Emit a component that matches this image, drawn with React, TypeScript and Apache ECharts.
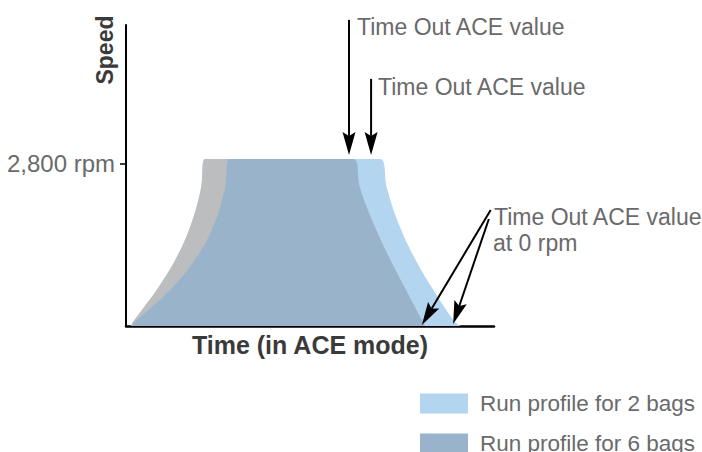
import React, { useEffect, useRef } from 'react';
import * as echarts from 'echarts';

const FONT = '"Liberation Sans", Arial, Helvetica, sans-serif';

// Legend / axis texts
const seriesNames = ['Run profile for 2 bags', 'Run profile for 6 bags'];
const yTickValues = [2800];
const yTickLabels = ['2,800 rpm'];
const xAxisName = 'Time (in ACE mode)';
const yAxisName = 'Speed';

// Run profile for 2 bags (time units, rpm)
const time2Bags = [1.4, 1.9, 8.7, 14.1, 17.9, 20.4, 21.5, 69.0, 70.9, 73.9, 78.0, 83.2, 89.4, 91.0];
const speed2Bags = [0, 69, 657, 1227, 1798, 2385, 2886, 2886, 2385, 1798, 1227, 657, 69, 0];

// Grey acceleration band (no legend entry)
const timeGrey = [1.4, 1.9, 8.7, 14.1, 17.9, 20.4, 21.5, 30.0, 30.0];
const speedGrey = [0, 69, 657, 1227, 1798, 2385, 2886, 2886, 0];

// Run profile for 6 bags
const time6Bags = [1.4, 2.5, 12.5, 19.6, 24.2, 26.9, 28.3, 61.7, 63.6, 67.1, 71.2, 75.8, 80.7, 81.2];
const speed6Bags = [0, 69, 657, 1227, 1798, 2385, 2886, 2886, 2385, 1798, 1227, 657, 69, 0];

// Annotation arrows: [tailTime, tailSpeed] -> [tipTime, tipSpeed]
const arrowTail = [
  [60.6, 5289],
  [66.6, 4269],
  [99.1, 2005],
  [98.6, 1849],
];
const arrowTip = [
  [60.6, 2956],
  [66.6, 2956],
  [80.4, 17],
  [88.9, 35],
];

const annotationTexts = ['Time Out ACE value', 'Time Out ACE value', 'Time Out ACE value', 'at 0 rpm'];

const COLOR_2 = '#b4d5f0';
const COLOR_6 = '#98b3ca';
const COLOR_GREY = '#bcbdbf';
const TEXT_LIGHT = '#6a6a6a';

const zip = (xs: number[], ys: number[]) => xs.map((x, i) => [x, ys[i]]);

function areaSeries(name: string, data: number[][], color: string, z: number) {
  return {
    name,
    type: 'line',
    data,
    smooth: 0.4,
    symbol: 'none',
    showSymbol: false,
    silent: true,
    z,
    color,
    lineStyle: { width: 0, color },
    itemStyle: { color },
    areaStyle: { color, opacity: 1 },
  };
}

function legendFor(i: number, top: number, color: string) {
  return {
    show: true,
    orient: 'vertical',
    left: 420,
    top,
    padding: 0,
    itemWidth: 48,
    itemHeight: 20,
    icon: 'rect',
    selectedMode: false,
    textStyle: { fontFamily: FONT, fontSize: 22.5, color: TEXT_LIGHT, padding: [0, 0, 0, 7] },
    data: [{ name: seriesNames[i], itemStyle: { color } }],
  };
}

export default function App() {
  const ref = useRef<HTMLDivElement>(null);

  useEffect(() => {
    document.body.style.margin = '0';
    if (!ref.current) return;
    const chart = echarts.init(ref.current, undefined, { renderer: 'svg' });

    const arrowData = arrowTail.map((t, i) => [t[0], t[1], arrowTip[i][0], arrowTip[i][1]]);
    const annoStyle = (text: string) => ({
      text,
      font: `23px ${FONT}`,
      fill: TEXT_LIGHT,
      align: 'left',
      verticalAlign: 'middle',
    });

    const option: any = {
      animation: false,
      grid: { left: 126, right: 208, top: 25, bottom: 126, containLabel: false },
      xAxis: {
        type: 'value',
        min: 0,
        max: 100,
        name: xAxisName,
        nameLocation: 'middle',
        nameGap: 6,
        nameTextStyle: {
          fontFamily: FONT,
          fontSize: 25,
          fontWeight: 'bold',
          color: '#3a3a3a',
          verticalAlign: 'top',
        },
        axisLine: { show: true, onZero: false, lineStyle: { color: '#000', width: 2.5 } },
        axisTick: { show: false },
        axisLabel: { show: false },
        splitLine: { show: false },
      },
      yAxis: {
        type: 'value',
        min: 0,
        max: 5200,
        axisLine: { show: true, onZero: false, lineStyle: { color: '#000', width: 2 } },
        axisTick: {
          show: true,
          length: 6,
          customValues: yTickValues,
          lineStyle: { color: '#000', width: 1.5 },
        },
        axisLabel: {
          show: true,
          customValues: yTickValues,
          margin: 11,
          fontFamily: FONT,
          fontSize: 24,
          color: TEXT_LIGHT,
          formatter: (v: number) => {
            const i = yTickValues.indexOf(v);
            return i >= 0 ? yTickLabels[i] : '';
          },
        },
        splitLine: { show: false },
      },
      legend: [legendFor(0, 392, COLOR_2), legendFor(1, 432, COLOR_6)],
      series: [
        areaSeries(seriesNames[0], zip(time2Bags, speed2Bags), COLOR_2, 1),
        areaSeries('grey', zip(timeGrey, speedGrey), COLOR_GREY, 2),
        areaSeries(seriesNames[1], zip(time6Bags, speed6Bags), COLOR_6, 3),
        {
          type: 'custom',
          name: 'arrows',
          silent: true,
          clip: false,
          z: 10,
          encode: { x: [0, 2], y: [1, 3] },
          data: arrowData,
          renderItem: (params: any, api: any) => {
            const a = api.coord([api.value(0), api.value(1)]);
            const b = api.coord([api.value(2), api.value(3)]);
            const dx = b[0] - a[0];
            const dy = b[1] - a[1];
            const len = Math.hypot(dx, dy) || 1;
            const ux = dx / len;
            const uy = dy / len;
            const px = -uy;
            const py = ux;
            const L = 23;
            const W = 6.5;
            const N = 4;
            const base = [b[0] - ux * L, b[1] - uy * L];
            const notch = [b[0] - ux * (L - N), b[1] - uy * (L - N)];
            return {
              type: 'group',
              children: [
                {
                  type: 'line',
                  shape: { x1: a[0], y1: a[1], x2: notch[0], y2: notch[1] },
                  style: { stroke: '#000', lineWidth: 2 },
                },
                {
                  type: 'polygon',
                  shape: {
                    points: [
                      [b[0], b[1]],
                      [base[0] + px * W, base[1] + py * W],
                      notch,
                      [base[0] - px * W, base[1] - py * W],
                    ],
                  },
                  style: { fill: '#000' },
                },
              ],
            };
          },
        },
      ],
      graphic: [
        {
          type: 'text',
          x: 105,
          y: 50,
          rotation: Math.PI / 2,
          style: {
            text: yAxisName,
            font: `bold 23px ${FONT}`,
            fill: '#3a3a3a',
            align: 'center',
            verticalAlign: 'middle',
          },
        },
        { type: 'text', x: 357, y: 27, style: annoStyle(annotationTexts[0]) },
        { type: 'text', x: 378, y: 87, style: annoStyle(annotationTexts[1]) },
        { type: 'text', x: 494, y: 217, style: annoStyle(annotationTexts[2]) },
        { type: 'text', x: 493, y: 243, style: annoStyle(annotationTexts[3]) },
      ],
    };

    chart.setOption(option);
    return () => chart.dispose();
  }, []);

  return (
    <div
      ref={ref}
      style={{ position: 'fixed', left: 0, top: 0, width: 702, height: 452, background: '#fff' }}
    />
  );
}
